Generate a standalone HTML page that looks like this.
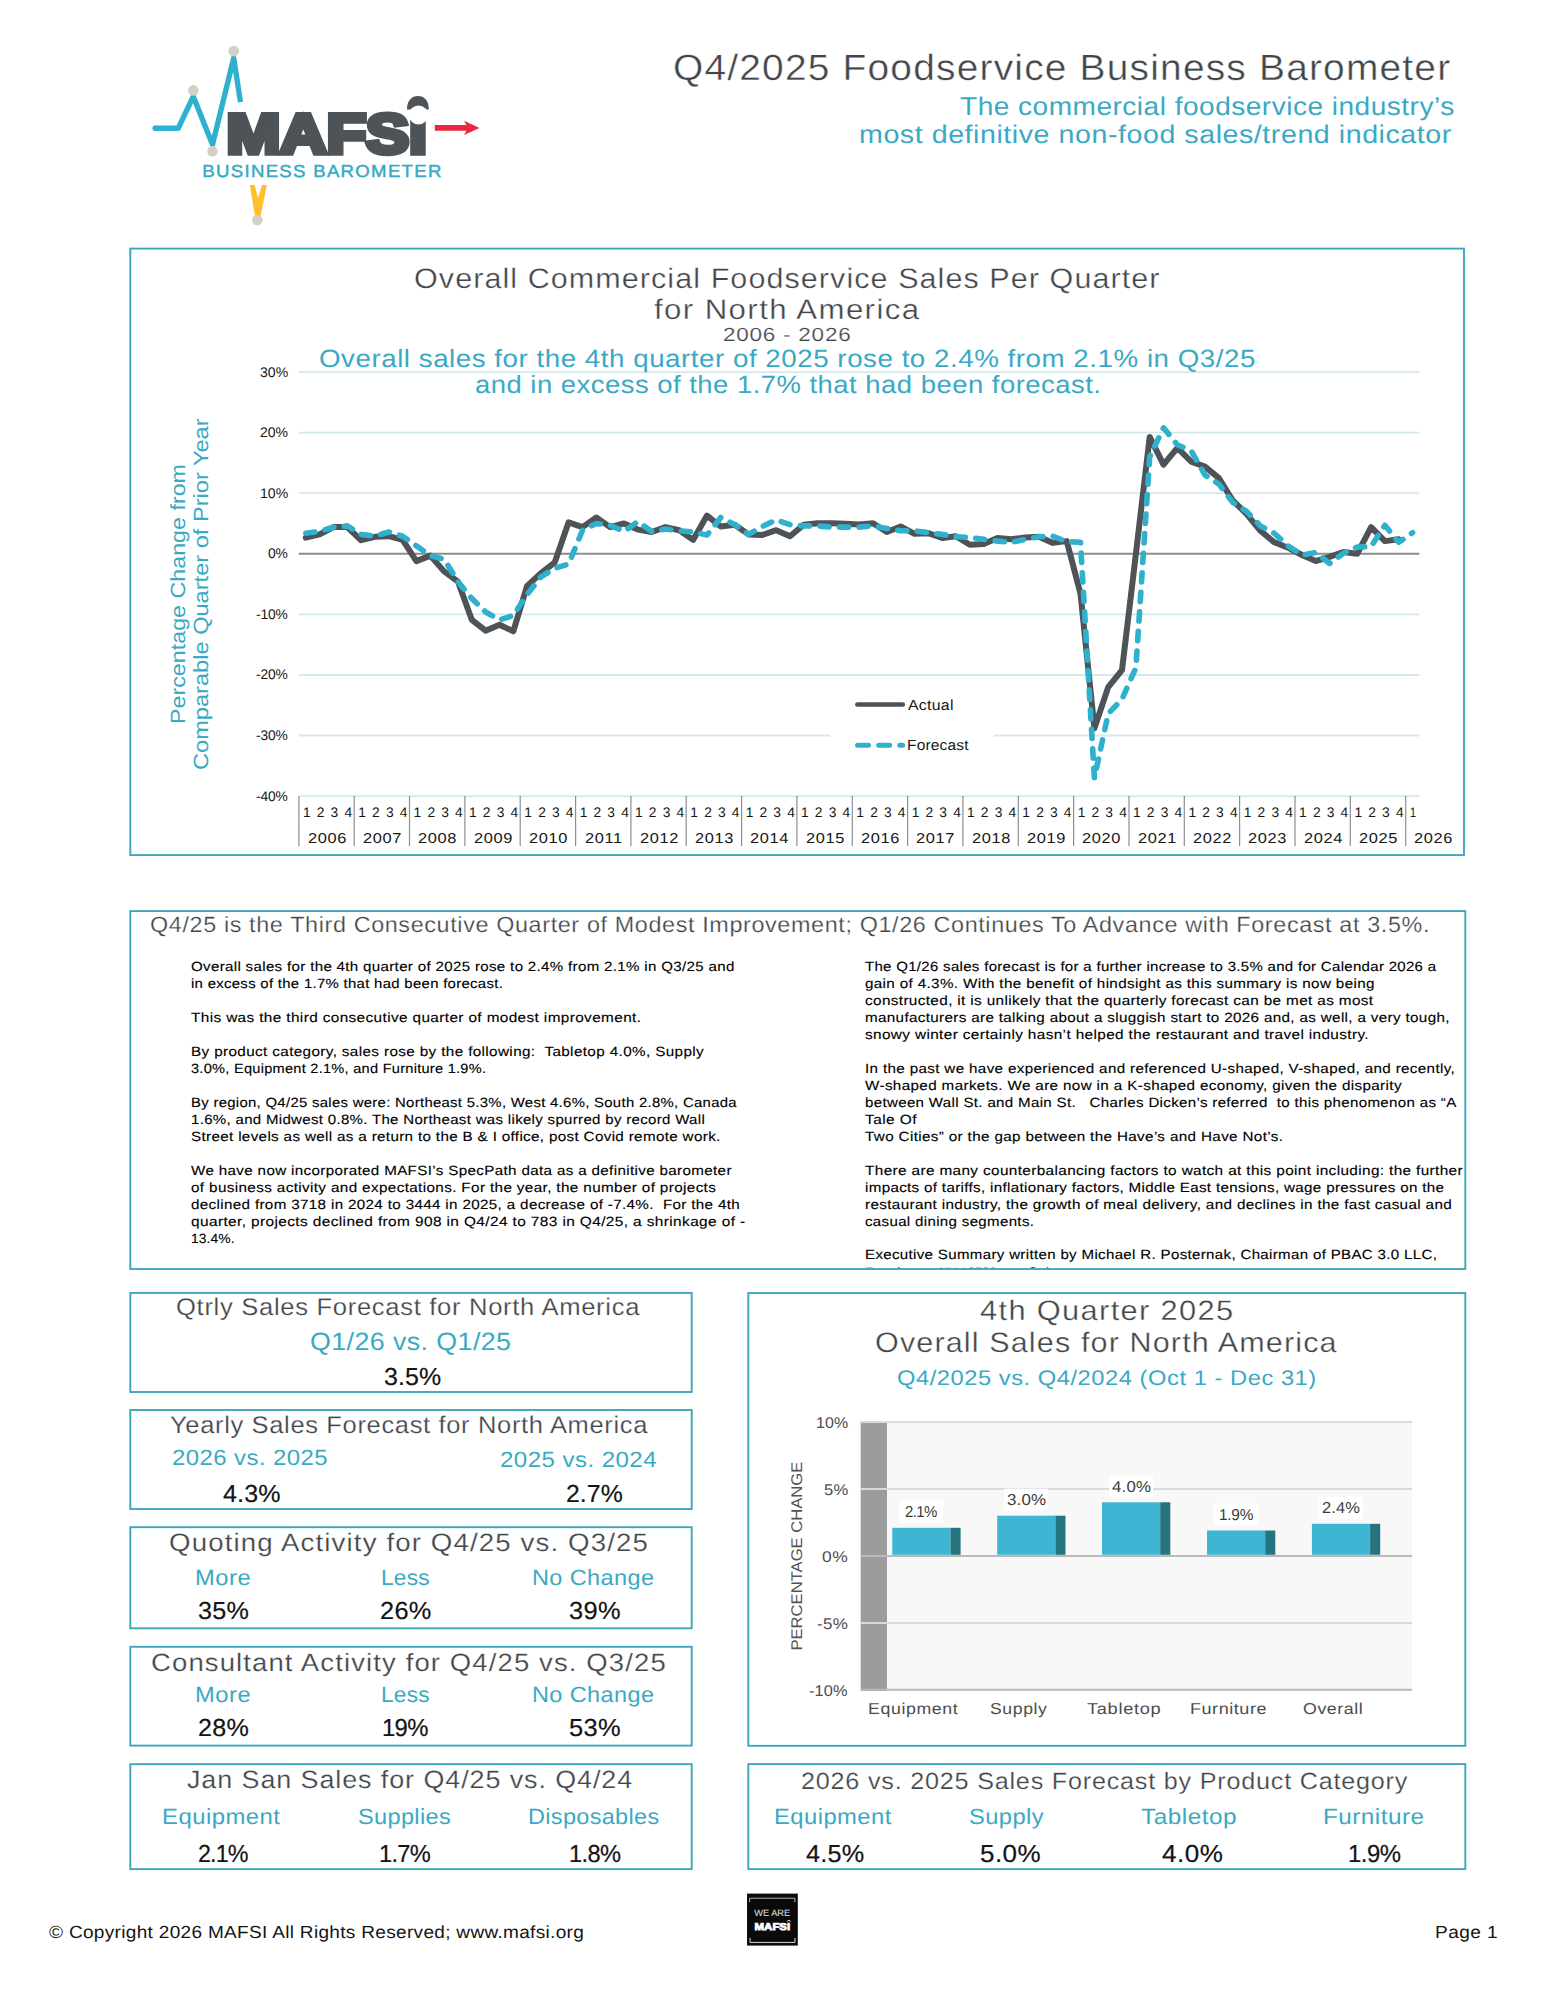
<!DOCTYPE html>
<html lang="en"><head><meta charset="utf-8"><title>Q4/2025 Foodservice Business Barometer</title>
<style>
html,body{margin:0;padding:0;background:#fff}
body{width:1545px;height:2000px;position:relative;overflow:hidden;font-family:'Liberation Sans', sans-serif}
.t{position:absolute;margin:0;padding:0;font-weight:400;white-space:pre;line-height:1;transform-origin:0 0;display:block;text-rendering:geometricPrecision}
.ov{position:absolute;left:0;top:0;overflow:visible}
.clipbox{position:absolute;left:0;top:0;width:1545px;height:1268.2px;overflow:hidden}
</style></head>
<body>
<svg class="ov" width="1545" height="2000" viewBox="0 0 1545 2000" text-rendering="geometricPrecision" font-family='"Liberation Sans", sans-serif'>
<rect x="130.3" y="248.6" width="1333.7" height="606.5" fill="none" stroke="#3ea6bc" stroke-width="1.9"/>
<rect x="130.3" y="911.1" width="1335.0" height="357.9" fill="none" stroke="#3ea6bc" stroke-width="1.9"/>
<rect x="130.3" y="1292.9" width="561.4" height="99.1" fill="none" stroke="#3ea6bc" stroke-width="1.9"/>
<rect x="130.3" y="1410.0" width="561.4" height="99.0" fill="none" stroke="#3ea6bc" stroke-width="1.9"/>
<rect x="130.3" y="1527.2" width="561.4" height="101.1" fill="none" stroke="#3ea6bc" stroke-width="1.9"/>
<rect x="130.3" y="1646.8" width="561.4" height="98.8" fill="none" stroke="#3ea6bc" stroke-width="1.9"/>
<rect x="130.3" y="1764.2" width="561.4" height="104.9" fill="none" stroke="#3ea6bc" stroke-width="1.9"/>
<rect x="748.3" y="1293.0" width="717.0" height="452.8" fill="none" stroke="#3ea6bc" stroke-width="1.9"/>
<rect x="748.3" y="1764.1" width="717.0" height="105.0" fill="none" stroke="#3ea6bc" stroke-width="1.9"/>
<line x1="298.85" x2="1419.3" y1="372.1" y2="372.1" stroke="#d3e9ec" stroke-width="1.8"/>
<line x1="298.85" x2="1419.3" y1="432.6" y2="432.6" stroke="#d3e9ec" stroke-width="1.8"/>
<line x1="298.85" x2="1419.3" y1="493.2" y2="493.2" stroke="#d3e9ec" stroke-width="1.8"/>
<line x1="298.85" x2="1419.3" y1="614.4" y2="614.4" stroke="#d3e9ec" stroke-width="1.8"/>
<line x1="298.85" x2="1419.3" y1="675.0" y2="675.0" stroke="#d3e9ec" stroke-width="1.8"/>
<line x1="298.85" x2="1419.3" y1="735.5" y2="735.5" stroke="#d3e9ec" stroke-width="1.8"/>
<line x1="298.85" x2="1419.3" y1="796.1" y2="796.1" stroke="#d3e9ec" stroke-width="1.8"/>
<line x1="298.85" x2="1419.3" y1="553.8" y2="553.8" stroke="#8c8c8c" stroke-width="1.9"/>
<text transform="translate(185.2,724) rotate(-90)" font-size="20.6" fill="#3aa9c4" textLength="260" lengthAdjust="spacingAndGlyphs">Percentage Change from</text>
<text transform="translate(208.1,770) rotate(-90)" font-size="20.6" fill="#3aa9c4" textLength="351.6" lengthAdjust="spacingAndGlyphs">Comparable Quarter of Prior Year</text>
<line x1="298.9" x2="298.9" y1="796.1" y2="846" stroke="#8e8e8e" stroke-width="1.2"/>
<line x1="354.2" x2="354.2" y1="796.1" y2="846" stroke="#8e8e8e" stroke-width="1.2"/>
<line x1="409.5" x2="409.5" y1="796.1" y2="846" stroke="#8e8e8e" stroke-width="1.2"/>
<line x1="464.9" x2="464.9" y1="796.1" y2="846" stroke="#8e8e8e" stroke-width="1.2"/>
<line x1="520.2" x2="520.2" y1="796.1" y2="846" stroke="#8e8e8e" stroke-width="1.2"/>
<line x1="575.6" x2="575.6" y1="796.1" y2="846" stroke="#8e8e8e" stroke-width="1.2"/>
<line x1="630.9" x2="630.9" y1="796.1" y2="846" stroke="#8e8e8e" stroke-width="1.2"/>
<line x1="686.2" x2="686.2" y1="796.1" y2="846" stroke="#8e8e8e" stroke-width="1.2"/>
<line x1="741.6" x2="741.6" y1="796.1" y2="846" stroke="#8e8e8e" stroke-width="1.2"/>
<line x1="796.9" x2="796.9" y1="796.1" y2="846" stroke="#8e8e8e" stroke-width="1.2"/>
<line x1="852.3" x2="852.3" y1="796.1" y2="846" stroke="#8e8e8e" stroke-width="1.2"/>
<line x1="907.6" x2="907.6" y1="796.1" y2="846" stroke="#8e8e8e" stroke-width="1.2"/>
<line x1="962.9" x2="962.9" y1="796.1" y2="846" stroke="#8e8e8e" stroke-width="1.2"/>
<line x1="1018.3" x2="1018.3" y1="796.1" y2="846" stroke="#8e8e8e" stroke-width="1.2"/>
<line x1="1073.6" x2="1073.6" y1="796.1" y2="846" stroke="#8e8e8e" stroke-width="1.2"/>
<line x1="1129.0" x2="1129.0" y1="796.1" y2="846" stroke="#8e8e8e" stroke-width="1.2"/>
<line x1="1184.3" x2="1184.3" y1="796.1" y2="846" stroke="#8e8e8e" stroke-width="1.2"/>
<line x1="1239.6" x2="1239.6" y1="796.1" y2="846" stroke="#8e8e8e" stroke-width="1.2"/>
<line x1="1295.0" x2="1295.0" y1="796.1" y2="846" stroke="#8e8e8e" stroke-width="1.2"/>
<line x1="1350.3" x2="1350.3" y1="796.1" y2="846" stroke="#8e8e8e" stroke-width="1.2"/>
<line x1="1405.7" x2="1405.7" y1="796.1" y2="846" stroke="#8e8e8e" stroke-width="1.2"/>
<rect x="830" y="688" width="164" height="74" fill="#fff"/>
<line x1="857.4" x2="902.8" y1="704.5" y2="704.5" stroke="#4d5357" stroke-width="4.7" stroke-linecap="round"/>
<line x1="857.5" x2="902.6" y1="745.35" y2="745.35" stroke="#2fb0cc" stroke-width="5" stroke-linecap="round" stroke-dasharray="11 10.1"/>
<path d="M305.8,537.7 L319.6,534.4 L333.4,527.1 L347.3,527.1 L361.1,540.2 L374.9,536.8 L388.8,536.2 L402.6,539.9 L416.4,561.1 L430.3,555.6 L444.1,571.4 L458.0,581.7 L471.8,619.8 L485.6,630.7 L499.5,624.7 L513.3,631.3 L527.1,585.9 L541.0,573.2 L554.8,562.3 L568.6,522.3 L582.5,527.1 L596.3,517.5 L610.1,527.1 L624.0,523.5 L637.8,529.6 L651.6,532.0 L665.5,527.1 L679.3,530.2 L693.1,539.9 L707.0,515.6 L720.8,526.5 L734.7,524.7 L748.5,534.4 L762.3,535.0 L776.2,530.2 L790.0,536.2 L803.8,524.7 L817.7,523.2 L831.5,523.2 L845.3,523.8 L859.2,524.4 L873.0,523.2 L886.8,532.0 L900.7,526.5 L914.5,533.8 L928.3,533.2 L942.2,538.0 L956.0,536.2 L969.8,544.7 L983.7,544.1 L997.5,538.0 L1011.4,539.3 L1025.2,537.4 L1039.0,536.8 L1052.9,542.9 L1066.7,541.1 L1080.5,593.8 L1094.4,728.3 L1108.2,687.1 L1122.0,670.1 L1135.9,553.8 L1149.7,436.9 L1163.5,464.7 L1177.4,447.8 L1191.2,461.7 L1205.0,466.6 L1218.9,478.1 L1232.7,500.5 L1246.5,513.8 L1260.4,530.8 L1274.2,542.3 L1288.1,547.7 L1301.9,555.0 L1315.7,561.1 L1329.6,556.8 L1343.4,552.0 L1357.2,553.8 L1371.1,527.1 L1384.9,541.1 L1398.7,539.3" fill="none" stroke="#4d5357" stroke-width="6" stroke-linejoin="round" stroke-linecap="round"/>
<path d="M305.8,533.2 L319.6,531.4 L333.4,527.1 L347.3,525.9 L361.1,534.4 L374.9,536.2 L388.8,532.0 L402.6,536.2 L416.4,545.9 L430.3,555.6 L444.1,559.3 L458.0,581.7 L471.8,598.6 L485.6,612.0 L499.5,619.8 L513.3,615.6 L527.1,594.4 L541.0,576.8 L554.8,568.3 L568.6,564.1 L582.5,530.2 L596.3,523.5 L610.1,525.3 L624.0,531.4 L637.8,521.7 L651.6,531.4 L665.5,529.0 L679.3,530.8 L693.1,532.0 L707.0,535.0 L720.8,517.5 L734.7,524.7 L748.5,534.4 L762.3,526.5 L776.2,519.9 L790.0,524.7 L803.8,525.9 L817.7,525.9 L831.5,527.1 L845.3,527.1 L859.2,527.1 L873.0,525.9 L886.8,528.4 L900.7,530.8 L914.5,530.8 L928.3,532.6 L942.2,534.4 L956.0,536.8 L969.8,537.4 L983.7,539.3 L997.5,541.1 L1011.4,542.3 L1025.2,539.3 L1039.0,536.8 L1052.9,536.2 L1066.7,541.7 L1080.5,542.3 L1094.4,777.9 L1108.2,713.7 L1122.0,699.2 L1135.9,667.7 L1149.7,456.9 L1163.5,427.8 L1177.4,444.8 L1191.2,450.8 L1205.0,475.0 L1218.9,484.1 L1232.7,502.3 L1246.5,511.4 L1260.4,525.9 L1274.2,533.2 L1288.1,545.9 L1301.9,555.0 L1315.7,552.6 L1329.6,563.5 L1343.4,553.2 L1357.2,547.1 L1371.1,546.5 L1384.9,525.3 L1398.7,542.3 L1412.6,532.6" fill="none" stroke="#2fb0cc" stroke-width="5.6" stroke-linejoin="round" stroke-linecap="round" stroke-dasharray="9.2 10.4"/>
<rect x="887" y="1422.3" width="525" height="267.7" fill="#f8f8f8"/>
<rect x="860.7" y="1421.5" width="26.3" height="269.5" fill="#9c9c9c"/>
<line x1="860.7" x2="1412" y1="1422.0" y2="1422.0" stroke="#dadada" stroke-width="2"/>
<line x1="860.7" x2="1412" y1="1489.0" y2="1489.0" stroke="#dadada" stroke-width="2"/>
<line x1="860.7" x2="1412" y1="1555.9" y2="1555.9" stroke="#b9b9b9" stroke-width="2"/>
<line x1="860.7" x2="1412" y1="1622.9" y2="1622.9" stroke="#dadada" stroke-width="2"/>
<line x1="860.7" x2="1412" y1="1689.8" y2="1689.8" stroke="#b9b9b9" stroke-width="2"/>
<text transform="translate(801.6,1650.6) rotate(-90)" font-size="15.5" fill="#555" textLength="189" lengthAdjust="spacingAndGlyphs">PERCENTAGE CHANGE</text>
<rect x="892.3" y="1527.8" width="58.2" height="27.0" fill="#3db5d3"/>
<rect x="950.5" y="1527.8" width="10.1" height="27.0" fill="#26747f"/>
<rect x="899.3" y="1500.8" width="44" height="22" fill="#fff"/>
<rect x="997.2" y="1515.7" width="58.2" height="39.1" fill="#3db5d3"/>
<rect x="1055.4" y="1515.7" width="10.1" height="39.1" fill="#26747f"/>
<rect x="1004.2" y="1488.7" width="44" height="22" fill="#fff"/>
<rect x="1102" y="1502.3" width="58.2" height="52.5" fill="#3db5d3"/>
<rect x="1160.2" y="1502.3" width="10.1" height="52.5" fill="#26747f"/>
<rect x="1109.0" y="1475.3" width="44" height="22" fill="#fff"/>
<rect x="1207" y="1530.5" width="58.2" height="24.3" fill="#3db5d3"/>
<rect x="1265.2" y="1530.5" width="10.1" height="24.3" fill="#26747f"/>
<rect x="1214.0" y="1503.5" width="44" height="22" fill="#fff"/>
<rect x="1311.9" y="1523.8" width="58.2" height="31.0" fill="#3db5d3"/>
<rect x="1370.1" y="1523.8" width="10.1" height="31.0" fill="#26747f"/>
<rect x="1318.9" y="1496.8" width="44" height="22" fill="#fff"/>
<g id="logo">
<path d="M155.1,128.2 H178.3 L193.3,96.4 L212.5,144.6 L233.7,58.1 L240.5,102.1" fill="none" stroke="#2eb0cf" stroke-width="5.4" stroke-linejoin="round" stroke-linecap="butt"/>
<circle cx="155.1" cy="128.2" r="2.7" fill="#2eb0cf"/>
<path d="M249.8,185 L254.6,185 L258.1,198 L262,185 L266.9,185 L260.5,216.5 L255,216.5 Z" fill="#fdc12d"/>
<circle cx="193.3" cy="90.4" r="5.3" fill="#d4d0c7"/>
<circle cx="212.5" cy="151.3" r="5.3" fill="#d4d0c7"/>
<circle cx="233.7" cy="51.1" r="5.3" fill="#d4d0c7"/>
<circle cx="257.3" cy="220.2" r="5.3" fill="#d4d0c7"/>
<text x="226.4" y="153.1" font-size="55.6" font-weight="700" fill="#4d5357" stroke="#4d5357" stroke-width="5.4" stroke-linejoin="miter" textLength="200.6" lengthAdjust="spacingAndGlyphs">MAFSI</text>
<path d="M407,109.5 C407,100.5 411.5,96 418,96 C424.5,96 428.8,100.5 428.8,109.5 Z" fill="#4d5357"/>
<circle cx="418.5" cy="115" r="9.5" fill="#fff"/>
<path d="M434.8,125.1 H466.5 L464,120.8 L479.5,127.9 L464,135 L466.5,130.7 H434.8 Z" fill="#e8273e"/>
<text x="202.3" y="176.8" font-size="17.4" fill="#35a9c7" stroke="#35a9c7" stroke-width="0.45" letter-spacing="1.2" textLength="240.4" lengthAdjust="spacingAndGlyphs">BUSINESS BAROMETER</text>
</g>
<rect x="747.05" y="1893.6" width="50.75" height="52" fill="#0a0a0a"/>
<path d="M749.6,1902.2 V1898.2 H794.9 V1902.2" fill="none" stroke="#b4b4b4" stroke-width="1"/>
<path d="M750,1938 V1942.4 H795 V1938" fill="none" stroke="#d8d8d8" stroke-width="1"/>
<text x="754.2" y="1915.8" font-size="9.2" fill="#e4e4e4" textLength="36" lengthAdjust="spacingAndGlyphs">WE ARE</text>
<text x="754.6" y="1929.7" font-size="9.8" font-weight="700" fill="#fff" stroke="#fff" stroke-width="0.8" textLength="35.6" lengthAdjust="spacingAndGlyphs">MAFSI</text>
<path d="M787.3,1921.6 C787.6,1920 790.2,1920 790.6,1921.6" fill="none" stroke="#fff" stroke-width="0.9"/>
</svg>
<header>
<h1 class="t" style="left:673.13px;top:50px;font-size:36.5px;color:#42464a;letter-spacing:1.132px;transform:scaleX(1.0651);-webkit-text-stroke:0.4px #fff">Q4/2025 Foodservice Business Barometer</h1>
<p class="t" style="left:960.36px;top:95px;font-size:25.7px;color:#3aa9c4;letter-spacing:0.440px;transform:scaleX(1.0928)">The commercial foodservice industry’s</p>
<p class="t" style="left:859.45px;top:123px;font-size:25.7px;color:#3aa9c4;letter-spacing:0.493px;transform:scaleX(1.1135)">most definitive non-food sales/trend indicator</p>
</header>
<section id="sales-chart">
<h2 class="t" style="left:414.09px;top:264px;font-size:28.3px;color:#42464a;letter-spacing:0.992px;transform:scaleX(1.0782);-webkit-text-stroke:0.32000000000000006px #fff">Overall Commercial Foodservice Sales Per Quarter</h2>
<h2 class="t" style="left:653.84px;top:295px;font-size:28.3px;color:#42464a;letter-spacing:1.273px;transform:scaleX(1.1021);-webkit-text-stroke:0.32000000000000006px #fff">for North America</h2>
<span class="t" style="left:723.18px;top:326px;font-size:19.1px;color:#42464a;letter-spacing:0.647px;transform:scaleX(1.1777);-webkit-text-stroke:0.2px #fff">2006 - 2026</span>
<p class="t" style="left:319.02px;top:347px;font-size:25.0px;color:#3aa9c4;letter-spacing:0.473px;transform:scaleX(1.1092)">Overall sales for the 4th quarter of 2025 rose to 2.4% from 2.1% in Q3/25</p>
<p class="t" style="left:474.65px;top:373px;font-size:25.0px;color:#3aa9c4;letter-spacing:0.436px;transform:scaleX(1.0983)">and in excess of the 1.7% that had been forecast.</p>
<span class="t" style="left:259.50px;top:365px;font-size:14.0px;color:#161616;letter-spacing:0.011px;transform:scaleX(1.0034)">30%</span>
<span class="t" style="left:259.58px;top:425px;font-size:14.0px;color:#161616;letter-spacing:0.003px;transform:scaleX(1.0010)">20%</span>
<span class="t" style="left:259.52px;top:486px;font-size:14.0px;color:#161616;letter-spacing:0.009px;transform:scaleX(1.0027)">10%</span>
<span class="t" style="left:267.82px;top:546px;font-size:14.0px;color:#161616;letter-spacing:-0.224px;transform:scaleX(0.9884)">0%</span>
<span class="t" style="left:255.72px;top:607px;font-size:14.0px;color:#161616;letter-spacing:-0.144px;transform:scaleX(0.9865)">-10%</span>
<span class="t" style="left:255.72px;top:667px;font-size:14.0px;color:#161616;letter-spacing:-0.144px;transform:scaleX(0.9865)">-20%</span>
<span class="t" style="left:255.72px;top:728px;font-size:14.0px;color:#161616;letter-spacing:-0.144px;transform:scaleX(0.9865)">-30%</span>
<span class="t" style="left:255.72px;top:789px;font-size:14.0px;color:#161616;letter-spacing:-0.144px;transform:scaleX(0.9865)">-40%</span>
<span class="t" style="left:302.94px;top:806px;font-size:13.8px;color:#161616;letter-spacing:1.166px;transform:scaleX(1.0000)">1 2 3 4</span>
<span class="t" style="left:307.53px;top:832px;font-size:14.4px;color:#161616;letter-spacing:0.536px;transform:scaleX(1.1398)">2006</span>
<span class="t" style="left:358.28px;top:806px;font-size:13.8px;color:#161616;letter-spacing:1.166px;transform:scaleX(1.0000)">1 2 3 4</span>
<span class="t" style="left:362.89px;top:832px;font-size:14.4px;color:#161616;letter-spacing:0.535px;transform:scaleX(1.1398)">2007</span>
<span class="t" style="left:413.62px;top:806px;font-size:13.8px;color:#161616;letter-spacing:1.166px;transform:scaleX(1.0000)">1 2 3 4</span>
<span class="t" style="left:418.21px;top:832px;font-size:14.4px;color:#161616;letter-spacing:0.536px;transform:scaleX(1.1398)">2008</span>
<span class="t" style="left:468.96px;top:806px;font-size:13.8px;color:#161616;letter-spacing:1.166px;transform:scaleX(1.0000)">1 2 3 4</span>
<span class="t" style="left:473.56px;top:832px;font-size:14.4px;color:#161616;letter-spacing:0.536px;transform:scaleX(1.1398)">2009</span>
<span class="t" style="left:524.30px;top:806px;font-size:13.8px;color:#161616;letter-spacing:1.166px;transform:scaleX(1.0000)">1 2 3 4</span>
<span class="t" style="left:528.85px;top:832px;font-size:14.4px;color:#161616;letter-spacing:0.537px;transform:scaleX(1.1397)">2010</span>
<span class="t" style="left:579.64px;top:806px;font-size:13.8px;color:#161616;letter-spacing:1.166px;transform:scaleX(1.0000)">1 2 3 4</span>
<span class="t" style="left:584.81px;top:832px;font-size:14.4px;color:#161616;letter-spacing:0.523px;transform:scaleX(1.1412)">2011</span>
<span class="t" style="left:634.98px;top:806px;font-size:13.8px;color:#161616;letter-spacing:1.166px;transform:scaleX(1.0000)">1 2 3 4</span>
<span class="t" style="left:639.59px;top:832px;font-size:14.4px;color:#161616;letter-spacing:0.535px;transform:scaleX(1.1398)">2012</span>
<span class="t" style="left:690.32px;top:806px;font-size:13.8px;color:#161616;letter-spacing:1.166px;transform:scaleX(1.0000)">1 2 3 4</span>
<span class="t" style="left:694.91px;top:832px;font-size:14.4px;color:#161616;letter-spacing:0.536px;transform:scaleX(1.1398)">2013</span>
<span class="t" style="left:745.66px;top:806px;font-size:13.8px;color:#161616;letter-spacing:1.166px;transform:scaleX(1.0000)">1 2 3 4</span>
<span class="t" style="left:750.18px;top:832px;font-size:14.4px;color:#161616;letter-spacing:0.537px;transform:scaleX(1.1396)">2014</span>
<span class="t" style="left:801.00px;top:806px;font-size:13.8px;color:#161616;letter-spacing:1.166px;transform:scaleX(1.0000)">1 2 3 4</span>
<span class="t" style="left:805.57px;top:832px;font-size:14.4px;color:#161616;letter-spacing:0.536px;transform:scaleX(1.1397)">2015</span>
<span class="t" style="left:856.34px;top:806px;font-size:13.8px;color:#161616;letter-spacing:1.166px;transform:scaleX(1.0000)">1 2 3 4</span>
<span class="t" style="left:860.93px;top:832px;font-size:14.4px;color:#161616;letter-spacing:0.536px;transform:scaleX(1.1398)">2016</span>
<span class="t" style="left:911.68px;top:806px;font-size:13.8px;color:#161616;letter-spacing:1.166px;transform:scaleX(1.0000)">1 2 3 4</span>
<span class="t" style="left:916.29px;top:832px;font-size:14.4px;color:#161616;letter-spacing:0.535px;transform:scaleX(1.1398)">2017</span>
<span class="t" style="left:967.02px;top:806px;font-size:13.8px;color:#161616;letter-spacing:1.166px;transform:scaleX(1.0000)">1 2 3 4</span>
<span class="t" style="left:971.61px;top:832px;font-size:14.4px;color:#161616;letter-spacing:0.536px;transform:scaleX(1.1398)">2018</span>
<span class="t" style="left:1022.36px;top:806px;font-size:13.8px;color:#161616;letter-spacing:1.166px;transform:scaleX(1.0000)">1 2 3 4</span>
<span class="t" style="left:1026.96px;top:832px;font-size:14.4px;color:#161616;letter-spacing:0.536px;transform:scaleX(1.1398)">2019</span>
<span class="t" style="left:1077.70px;top:806px;font-size:13.8px;color:#161616;letter-spacing:1.166px;transform:scaleX(1.0000)">1 2 3 4</span>
<span class="t" style="left:1082.25px;top:832px;font-size:14.4px;color:#161616;letter-spacing:0.537px;transform:scaleX(1.1397)">2020</span>
<span class="t" style="left:1133.04px;top:806px;font-size:13.8px;color:#161616;letter-spacing:1.166px;transform:scaleX(1.0000)">1 2 3 4</span>
<span class="t" style="left:1137.64px;top:832px;font-size:14.4px;color:#161616;letter-spacing:0.536px;transform:scaleX(1.1398)">2021</span>
<span class="t" style="left:1188.38px;top:806px;font-size:13.8px;color:#161616;letter-spacing:1.166px;transform:scaleX(1.0000)">1 2 3 4</span>
<span class="t" style="left:1192.99px;top:832px;font-size:14.4px;color:#161616;letter-spacing:0.535px;transform:scaleX(1.1398)">2022</span>
<span class="t" style="left:1243.72px;top:806px;font-size:13.8px;color:#161616;letter-spacing:1.166px;transform:scaleX(1.0000)">1 2 3 4</span>
<span class="t" style="left:1248.31px;top:832px;font-size:14.4px;color:#161616;letter-spacing:0.536px;transform:scaleX(1.1398)">2023</span>
<span class="t" style="left:1299.06px;top:806px;font-size:13.8px;color:#161616;letter-spacing:1.166px;transform:scaleX(1.0000)">1 2 3 4</span>
<span class="t" style="left:1303.58px;top:832px;font-size:14.4px;color:#161616;letter-spacing:0.537px;transform:scaleX(1.1396)">2024</span>
<span class="t" style="left:1354.40px;top:806px;font-size:13.8px;color:#161616;letter-spacing:1.166px;transform:scaleX(1.0000)">1 2 3 4</span>
<span class="t" style="left:1358.97px;top:832px;font-size:14.4px;color:#161616;letter-spacing:0.536px;transform:scaleX(1.1397)">2025</span>
<span class="t" style="left:1409.97px;top:806px;font-size:13.8px;color:#161616;letter-spacing:-1.657px;transform:scaleX(0.7819)">1</span>
<span class="t" style="left:1414.33px;top:832px;font-size:14.4px;color:#161616;letter-spacing:0.536px;transform:scaleX(1.1398)">2026</span>
<span class="t" style="left:907.92px;top:699px;font-size:14.7px;color:#161616;letter-spacing:0.250px;transform:scaleX(1.0798)">Actual</span>
<span class="t" style="left:907.21px;top:739px;font-size:14.7px;color:#161616;letter-spacing:0.177px;transform:scaleX(1.0548)">Forecast</span>
</section>
<section id="summary">
<h2 class="t" style="left:150.03px;top:914px;font-size:22.0px;color:#42464a;letter-spacing:0.596px;transform:scaleX(1.0612);-webkit-text-stroke:0.24px #fff">Q4/25 is the Third Consecutive Quarter of Modest Improvement; Q1/26 Continues To Advance with Forecast at 3.5%.</h2>
<p class="t" style="left:190.80px;top:960px;font-size:13.4px;color:#000;letter-spacing:0.292px;transform:scaleX(1.1269);-webkit-text-stroke:0.13px #000">Overall sales for the 4th quarter of 2025 rose to 2.4% from 2.1% in Q3/25 and</p>
<p class="t" style="left:190.80px;top:977px;font-size:13.4px;color:#000;letter-spacing:0.267px;transform:scaleX(1.1146);-webkit-text-stroke:0.13px #000">in excess of the 1.7% that had been forecast.</p>
<p class="t" style="left:190.80px;top:1011px;font-size:13.4px;color:#000;letter-spacing:0.336px;transform:scaleX(1.1448);-webkit-text-stroke:0.13px #000">This was the third consecutive quarter of modest improvement.</p>
<p class="t" style="left:190.80px;top:1045px;font-size:13.4px;color:#000;letter-spacing:0.318px;transform:scaleX(1.1410);-webkit-text-stroke:0.13px #000">By product category, sales rose by the following:  Tabletop 4.0%, Supply</p>
<p class="t" style="left:190.80px;top:1062px;font-size:13.4px;color:#000;letter-spacing:0.231px;transform:scaleX(1.0905);-webkit-text-stroke:0.13px #000">3.0%, Equipment 2.1%, and Furniture 1.9%.</p>
<p class="t" style="left:190.80px;top:1096px;font-size:13.4px;color:#000;letter-spacing:0.276px;transform:scaleX(1.1110);-webkit-text-stroke:0.13px #000">By region, Q4/25 sales were: Northeast 5.3%, West 4.6%, South 2.8%, Canada</p>
<p class="t" style="left:190.80px;top:1113px;font-size:13.4px;color:#000;letter-spacing:0.288px;transform:scaleX(1.1204);-webkit-text-stroke:0.13px #000">1.6%, and Midwest 0.8%. The Northeast was likely spurred by record Wall</p>
<p class="t" style="left:190.80px;top:1130px;font-size:13.4px;color:#000;letter-spacing:0.294px;transform:scaleX(1.1359);-webkit-text-stroke:0.13px #000">Street levels as well as a return to the B &amp; I office, post Covid remote work.</p>
<p class="t" style="left:190.80px;top:1164px;font-size:13.4px;color:#000;letter-spacing:0.319px;transform:scaleX(1.1314);-webkit-text-stroke:0.13px #000">We have now incorporated MAFSI’s SpecPath data as a definitive barometer</p>
<p class="t" style="left:190.80px;top:1181px;font-size:13.4px;color:#000;letter-spacing:0.312px;transform:scaleX(1.1410);-webkit-text-stroke:0.13px #000">of business activity and expectations. For the year, the number of projects</p>
<p class="t" style="left:190.80px;top:1198px;font-size:13.4px;color:#000;letter-spacing:0.306px;transform:scaleX(1.1337);-webkit-text-stroke:0.13px #000">declined from 3718 in 2024 to 3444 in 2025, a decrease of -7.4%.  For the 4th</p>
<p class="t" style="left:190.80px;top:1215px;font-size:13.4px;color:#000;letter-spacing:0.333px;transform:scaleX(1.1516);-webkit-text-stroke:0.13px #000">quarter, projects declined from 908 in Q4/24 to 783 in Q4/25, a shrinkage of -</p>
<p class="t" style="left:190.80px;top:1232px;font-size:13.4px;color:#000;letter-spacing:0.105px;transform:scaleX(1.0313);-webkit-text-stroke:0.13px #000">13.4%.</p>
<p class="t" style="left:864.90px;top:960px;font-size:13.4px;color:#000;letter-spacing:0.276px;transform:scaleX(1.1200);-webkit-text-stroke:0.13px #000">The Q1/26 sales forecast is for a further increase to 3.5% and for Calendar 2026 a</p>
<p class="t" style="left:864.90px;top:977px;font-size:13.4px;color:#000;letter-spacing:0.308px;transform:scaleX(1.1363);-webkit-text-stroke:0.13px #000">gain of 4.3%. With the benefit of hindsight as this summary is now being</p>
<p class="t" style="left:864.90px;top:994px;font-size:13.4px;color:#000;letter-spacing:0.312px;transform:scaleX(1.1442);-webkit-text-stroke:0.13px #000">constructed, it is unlikely that the quarterly forecast can be met as most</p>
<p class="t" style="left:864.90px;top:1011px;font-size:13.4px;color:#000;letter-spacing:0.301px;transform:scaleX(1.1354);-webkit-text-stroke:0.13px #000">manufacturers are talking about a sluggish start to 2026 and, as well, a very tough,</p>
<p class="t" style="left:864.90px;top:1028px;font-size:13.4px;color:#000;letter-spacing:0.320px;transform:scaleX(1.1464);-webkit-text-stroke:0.13px #000">snowy winter certainly hasn’t helped the restaurant and travel industry.</p>
<p class="t" style="left:864.90px;top:1062px;font-size:13.4px;color:#000;letter-spacing:0.315px;transform:scaleX(1.1332);-webkit-text-stroke:0.13px #000">In the past we have experienced and referenced U-shaped, V-shaped, and recently,</p>
<p class="t" style="left:864.90px;top:1079px;font-size:13.4px;color:#000;letter-spacing:0.328px;transform:scaleX(1.1354);-webkit-text-stroke:0.13px #000">W-shaped markets. We are now in a K-shaped economy, given the disparity</p>
<p class="t" style="left:864.90px;top:1096px;font-size:13.4px;color:#000;letter-spacing:0.293px;transform:scaleX(1.1263);-webkit-text-stroke:0.13px #000">between Wall St. and Main St.   Charles Dicken’s referred  to this phenomenon as “A</p>
<p class="t" style="left:864.90px;top:1113px;font-size:13.4px;color:#000;letter-spacing:0.397px;transform:scaleX(1.1510);-webkit-text-stroke:0.13px #000">Tale Of</p>
<p class="t" style="left:864.90px;top:1130px;font-size:13.4px;color:#000;letter-spacing:0.319px;transform:scaleX(1.1358);-webkit-text-stroke:0.13px #000">Two Cities” or the gap between the Have’s and Have Not’s.</p>
<p class="t" style="left:864.90px;top:1164px;font-size:13.4px;color:#000;letter-spacing:0.320px;transform:scaleX(1.1451);-webkit-text-stroke:0.13px #000">There are many counterbalancing factors to watch at this point including: the further</p>
<p class="t" style="left:864.90px;top:1181px;font-size:13.4px;color:#000;letter-spacing:0.289px;transform:scaleX(1.1318);-webkit-text-stroke:0.13px #000">impacts of tariffs, inflationary factors, Middle East tensions, wage pressures on the</p>
<p class="t" style="left:864.90px;top:1198px;font-size:13.4px;color:#000;letter-spacing:0.305px;transform:scaleX(1.1396);-webkit-text-stroke:0.13px #000">restaurant industry, the growth of meal delivery, and declines in the fast casual and</p>
<p class="t" style="left:864.90px;top:1215px;font-size:13.4px;color:#000;letter-spacing:0.305px;transform:scaleX(1.1234);-webkit-text-stroke:0.13px #000">casual dining segments.</p>
<p class="t" style="left:864.90px;top:1248px;font-size:13.4px;color:#000;letter-spacing:0.305px;transform:scaleX(1.1238);-webkit-text-stroke:0.13px #000">Executive Summary written by Michael R. Posternak, Chairman of PBAC 3.0 LLC,</p>
<div class="clipbox"><span class="t" style="left:864.90px;top:1266px;font-size:13.4px;color:#000;letter-spacing:-0.133px;transform:scaleX(0.9813);-webkit-text-stroke:0.13px #000">Eastchester, NY 10709  mrp@pbac.com</span></div>
</section>
<section id="qtrly-forecast">
<h3 class="t" style="left:176.21px;top:1296px;font-size:24.1px;color:#42464a;letter-spacing:0.648px;transform:scaleX(1.0619);-webkit-text-stroke:0.22000000000000003px #fff">Qtrly Sales Forecast for North America</h3>
<span class="t" style="left:310.37px;top:1330px;font-size:25.0px;color:#3aa9c4;letter-spacing:0.375px;transform:scaleX(1.0731)">Q1/26 vs. Q1/25</span>
<span class="t" style="left:383.69px;top:1366px;font-size:24.6px;color:#141414;letter-spacing:0.108px;transform:scaleX(1.0142);-webkit-text-stroke:0.2px #141414">3.5%</span>
</section>
<section id="yearly-forecast">
<h3 class="t" style="left:169.60px;top:1414px;font-size:24.1px;color:#42464a;letter-spacing:0.618px;transform:scaleX(1.0582);-webkit-text-stroke:0.22000000000000003px #fff">Yearly Sales Forecast for North America</h3>
<span class="t" style="left:172.27px;top:1447px;font-size:22.0px;color:#3aa9c4;letter-spacing:0.395px;transform:scaleX(1.0885)">2026 vs. 2025</span>
<span class="t" style="left:500.17px;top:1449px;font-size:22.0px;color:#3aa9c4;letter-spacing:0.415px;transform:scaleX(1.0931)">2025 vs. 2024</span>
<span class="t" style="left:222.82px;top:1483px;font-size:24.6px;color:#141414;letter-spacing:0.145px;transform:scaleX(1.0189);-webkit-text-stroke:0.2px #141414">4.3%</span>
<span class="t" style="left:566.13px;top:1483px;font-size:24.6px;color:#141414;letter-spacing:0.065px;transform:scaleX(1.0085);-webkit-text-stroke:0.2px #141414">2.7%</span>
</section>
<section id="quoting-activity">
<h3 class="t" style="left:169.14px;top:1531px;font-size:25.2px;color:#42464a;letter-spacing:1.019px;transform:scaleX(1.0984);-webkit-text-stroke:0.22000000000000003px #fff">Quoting Activity for Q4/25 vs. Q3/25</h3>
<span class="t" style="left:194.75px;top:1567px;font-size:22.0px;color:#3aa9c4;letter-spacing:0.487px;transform:scaleX(1.0776)">More</span>
<span class="t" style="left:380.63px;top:1567px;font-size:22.0px;color:#3aa9c4;letter-spacing:0.190px;transform:scaleX(1.0313)">Less</span>
<span class="t" style="left:532.07px;top:1567px;font-size:22.0px;color:#3aa9c4;letter-spacing:0.367px;transform:scaleX(1.0675)">No Change</span>
<span class="t" style="left:197.79px;top:1600px;font-size:24.6px;color:#141414;letter-spacing:0.219px;transform:scaleX(1.0222);-webkit-text-stroke:0.2px #141414">35%</span>
<span class="t" style="left:379.71px;top:1600px;font-size:24.6px;color:#141414;letter-spacing:0.300px;transform:scaleX(1.0307);-webkit-text-stroke:0.2px #141414">26%</span>
<span class="t" style="left:569.27px;top:1600px;font-size:24.6px;color:#141414;letter-spacing:0.332px;transform:scaleX(1.0341);-webkit-text-stroke:0.2px #141414">39%</span>
</section>
<section id="consultant-activity">
<h3 class="t" style="left:151.35px;top:1651px;font-size:25.0px;color:#42464a;letter-spacing:1.018px;transform:scaleX(1.0997);-webkit-text-stroke:0.22000000000000003px #fff">Consultant Activity for Q4/25 vs. Q3/25</h3>
<span class="t" style="left:194.75px;top:1684px;font-size:22.0px;color:#3aa9c4;letter-spacing:0.487px;transform:scaleX(1.0776)">More</span>
<span class="t" style="left:380.63px;top:1684px;font-size:22.0px;color:#3aa9c4;letter-spacing:0.190px;transform:scaleX(1.0313)">Less</span>
<span class="t" style="left:532.07px;top:1684px;font-size:22.0px;color:#3aa9c4;letter-spacing:0.367px;transform:scaleX(1.0675)">No Change</span>
<span class="t" style="left:197.72px;top:1717px;font-size:24.6px;color:#141414;letter-spacing:0.229px;transform:scaleX(1.0232);-webkit-text-stroke:0.2px #141414">28%</span>
<span class="t" style="left:382.18px;top:1717px;font-size:24.6px;color:#141414;letter-spacing:-0.701px;transform:scaleX(0.9706);-webkit-text-stroke:0.2px #141414">19%</span>
<span class="t" style="left:569.16px;top:1717px;font-size:24.6px;color:#141414;letter-spacing:0.347px;transform:scaleX(1.0358);-webkit-text-stroke:0.2px #141414">53%</span>
</section>
<section id="jan-san">
<h3 class="t" style="left:186.52px;top:1768px;font-size:25.0px;color:#42464a;letter-spacing:0.853px;transform:scaleX(1.0763);-webkit-text-stroke:0.22000000000000003px #fff">Jan San Sales for Q4/25 vs. Q4/24</h3>
<span class="t" style="left:161.53px;top:1806px;font-size:22.0px;color:#3aa9c4;letter-spacing:0.434px;transform:scaleX(1.0853)">Equipment</span>
<span class="t" style="left:358.07px;top:1806px;font-size:22.0px;color:#3aa9c4;letter-spacing:0.328px;transform:scaleX(1.0696)">Supplies</span>
<span class="t" style="left:527.77px;top:1806px;font-size:22.0px;color:#3aa9c4;letter-spacing:0.313px;transform:scaleX(1.0664)">Disposables</span>
<span class="t" style="left:197.81px;top:1843px;font-size:24.6px;color:#141414;letter-spacing:-0.955px;transform:scaleX(0.9496);-webkit-text-stroke:0.2px #141414">2.1%</span>
<span class="t" style="left:379.20px;top:1843px;font-size:24.6px;color:#141414;letter-spacing:-0.751px;transform:scaleX(0.9595);-webkit-text-stroke:0.2px #141414">1.7%</span>
<span class="t" style="left:568.70px;top:1843px;font-size:24.6px;color:#141414;letter-spacing:-0.697px;transform:scaleX(0.9623);-webkit-text-stroke:0.2px #141414">1.8%</span>
</section>
<section id="overall-sales">
<h2 class="t" style="left:980.19px;top:1297px;font-size:28.1px;color:#42464a;letter-spacing:1.235px;transform:scaleX(1.0965);-webkit-text-stroke:0.32000000000000006px #fff">4th Quarter 2025</h2>
<h2 class="t" style="left:874.80px;top:1329px;font-size:28.1px;color:#42464a;letter-spacing:1.043px;transform:scaleX(1.0867);-webkit-text-stroke:0.32000000000000006px #fff">Overall Sales for North America</h2>
<span class="t" style="left:896.94px;top:1368px;font-size:21.1px;color:#3aa9c4;letter-spacing:0.477px;transform:scaleX(1.1236)">Q4/2025 vs. Q4/2024 (Oct 1 - Dec 31)</span>
<span class="t" style="left:815.55px;top:1416px;font-size:15.5px;color:#4c4c4c;letter-spacing:0.113px;transform:scaleX(1.0320)">10%</span>
<span class="t" style="left:823.57px;top:1483px;font-size:15.5px;color:#4c4c4c;letter-spacing:0.351px;transform:scaleX(1.0724)">5%</span>
<span class="t" style="left:822.18px;top:1550px;font-size:15.5px;color:#4c4c4c;letter-spacing:0.581px;transform:scaleX(1.1242)">0%</span>
<span class="t" style="left:817.05px;top:1617px;font-size:15.5px;color:#4c4c4c;letter-spacing:0.287px;transform:scaleX(1.0961)">-5%</span>
<span class="t" style="left:809.18px;top:1684px;font-size:15.5px;color:#4c4c4c;letter-spacing:0.146px;transform:scaleX(1.0527)">-10%</span>
<span class="t" style="left:868.03px;top:1702px;font-size:15.8px;color:#4c4c4c;letter-spacing:0.546px;transform:scaleX(1.1227)">Equipment</span>
<span class="t" style="left:989.59px;top:1702px;font-size:15.8px;color:#4c4c4c;letter-spacing:0.528px;transform:scaleX(1.1161)">Supply</span>
<span class="t" style="left:1086.69px;top:1702px;font-size:15.8px;color:#4c4c4c;letter-spacing:0.596px;transform:scaleX(1.1525)">Tabletop</span>
<span class="t" style="left:1189.70px;top:1702px;font-size:15.8px;color:#4c4c4c;letter-spacing:0.500px;transform:scaleX(1.1382)">Furniture</span>
<span class="t" style="left:1303.32px;top:1702px;font-size:15.8px;color:#4c4c4c;letter-spacing:0.484px;transform:scaleX(1.1262)">Overall</span>
<span class="t" style="left:904.94px;top:1505px;font-size:15.8px;color:#3a3a3a;letter-spacing:-0.624px;transform:scaleX(0.9488)">2.1%</span>
<span class="t" style="left:1006.56px;top:1493px;font-size:15.8px;color:#3a3a3a;letter-spacing:0.189px;transform:scaleX(1.0702)">3.0%</span>
<span class="t" style="left:1112.11px;top:1480px;font-size:15.8px;color:#3a3a3a;letter-spacing:0.182px;transform:scaleX(1.0666)">4.0%</span>
<span class="t" style="left:1218.71px;top:1508px;font-size:15.8px;color:#3a3a3a;letter-spacing:-0.277px;transform:scaleX(0.9763)">1.9%</span>
<span class="t" style="left:1322.07px;top:1501px;font-size:15.8px;color:#3a3a3a;letter-spacing:0.112px;transform:scaleX(1.0404)">2.4%</span>
</section>
<section id="category-forecast">
<h3 class="t" style="left:800.71px;top:1770px;font-size:23.5px;color:#42464a;letter-spacing:0.741px;transform:scaleX(1.0704);-webkit-text-stroke:0.22000000000000003px #fff">2026 vs. 2025 Sales Forecast by Product Category</h3>
<span class="t" style="left:773.84px;top:1806px;font-size:22.0px;color:#3aa9c4;letter-spacing:0.415px;transform:scaleX(1.0813)">Equipment</span>
<span class="t" style="left:969.36px;top:1806px;font-size:22.0px;color:#3aa9c4;letter-spacing:0.400px;transform:scaleX(1.0766)">Supply</span>
<span class="t" style="left:1140.84px;top:1806px;font-size:22.0px;color:#3aa9c4;letter-spacing:0.471px;transform:scaleX(1.1039)">Tabletop</span>
<span class="t" style="left:1323.30px;top:1806px;font-size:22.0px;color:#3aa9c4;letter-spacing:0.429px;transform:scaleX(1.1038)">Furniture</span>
<span class="t" style="left:805.62px;top:1843px;font-size:24.6px;color:#141414;letter-spacing:0.211px;transform:scaleX(1.0278);-webkit-text-stroke:0.2px #141414">4.5%</span>
<span class="t" style="left:979.63px;top:1843px;font-size:24.6px;color:#141414;letter-spacing:0.425px;transform:scaleX(1.0584);-webkit-text-stroke:0.2px #141414">5.0%</span>
<span class="t" style="left:1161.90px;top:1843px;font-size:24.6px;color:#141414;letter-spacing:0.441px;transform:scaleX(1.0599);-webkit-text-stroke:0.2px #141414">4.0%</span>
<span class="t" style="left:1347.88px;top:1843px;font-size:24.6px;color:#141414;letter-spacing:-0.518px;transform:scaleX(0.9717);-webkit-text-stroke:0.2px #141414">1.9%</span>
</section>
<footer>
<span class="t" style="left:48.62px;top:1924px;font-size:17.5px;color:#141414;letter-spacing:0.290px;transform:scaleX(1.0868)">© Copyright 2026 MAFSI All Rights Reserved; www.mafsi.org</span>
<span class="t" style="left:1435.42px;top:1924px;font-size:17.5px;color:#141414;letter-spacing:0.376px;transform:scaleX(1.0900)">Page 1</span>
</footer>
</body></html>
